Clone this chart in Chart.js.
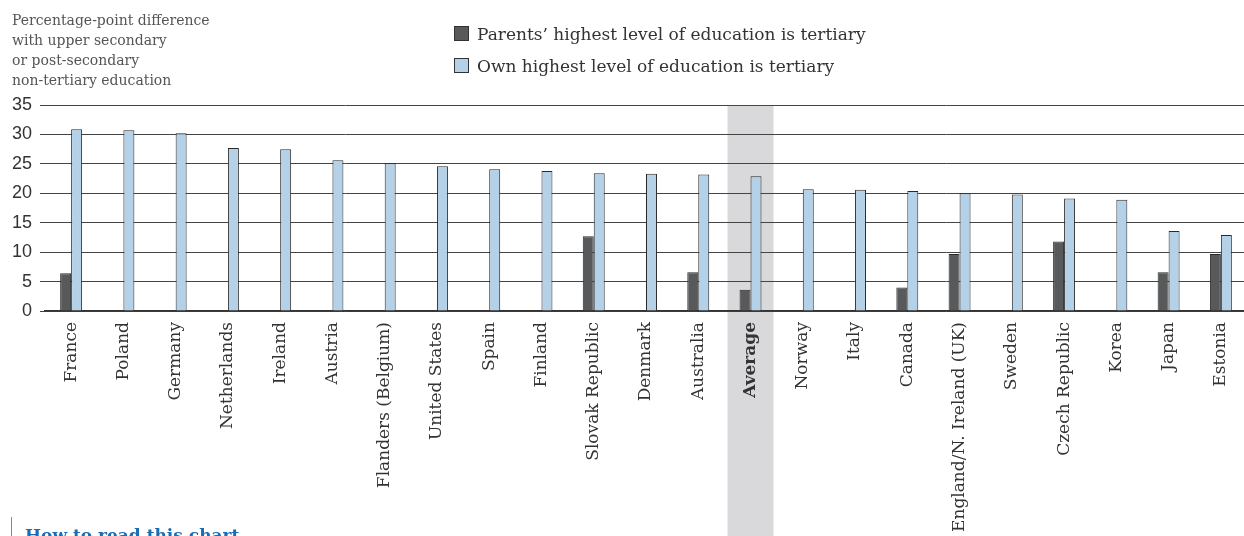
<!DOCTYPE html>
<html lang="en">

<head>
    <title>Tertiary education difference</title>
    <meta charset="utf-8">
    <script src="https://cdn.jsdelivr.net/npm/chart.js"></script>
    <style>
        html, body {
            margin: 0;
            padding: 0;
            width: 1244px;
            height: 536px;
            overflow: hidden;
            background: #fff;
        }

        #wrap {
            position: absolute;
            left: 0;
            top: 0;
            width: 1247px;
            height: 536px;
        }

        #yTitle {
            position: absolute;
            left: 12px;
            top: 10px;
            font-family: "DejaVu Serif", serif;
            font-size: 14px;
            line-height: 20px;
            color: #555;
        }

        .legend {
            position: absolute;
            left: 454px;
            font-family: "DejaVu Serif", serif;
            font-size: 17px;
            color: #333;
            white-space: nowrap;
        }

        .legend span {
            display: inline-block;
            width: 13px;
            height: 13px;
            border: 1px solid #333;
            margin-right: 8px;
            vertical-align: -1px;
        }

        #howTo {
            position: absolute;
            left: 25px;
            top: 525px;
            font-family: "DejaVu Serif", serif;
            font-weight: bold;
            font-size: 17px;
            color: #1a6db4;
        }

        #howLine {
            position: absolute;
            left: 11px;
            top: 517px;
            width: 1px;
            height: 20px;
            background: #888;
        }
    </style>
</head>

<body>
    <div id="wrap"><canvas id="chart"></canvas></div>

    <div id="yTitle">Percentage-point difference<br>with upper secondary<br>or post-secondary<br>non-tertiary education</div>
    <div class="legend" style="top:24px"><span style="background:#58595b"></span>Parents’ highest level of education is tertiary</div>
    <div class="legend" style="top:56px"><span style="background:#b4d1e8"></span>Own highest level of education is tertiary</div>

    <div id="howLine"></div>
    <div id="howTo">How to read this chart</div>

    <script>
        // countries, sorted by the "own" bar
        const countries = ['France', 'Poland', 'Germany', 'Netherlands', 'Ireland', 'Austria',
            'Flanders (Belgium)', 'United States', 'Spain', 'Finland', 'Slovak Republic', 'Denmark',
            'Australia', 'Average', 'Norway', 'Italy', 'Canada', 'England/N. Ireland (UK)', 'Sweden',
            'Czech Republic', 'Korea', 'Japan', 'Estonia'];

        const parentsTertiary = [6.4, null, null, null, null, null,
            null, null, null, null, 12.7, null,
            6.6, 3.6, null, null, 4.0, 9.7, null,
            11.8, null, 6.6, 9.7];

        const ownTertiary = [30.9, 30.7, 30.2, 27.7, 27.5, 25.6,
            25.1, 24.6, 24.1, 23.8, 23.4, 23.3,
            23.2, 22.9, 20.7, 20.6, 20.4, 20.0, 19.8,
            19.1, 18.9, 13.6, 12.9];

        const yTicks = [0, 5, 10, 15, 20, 25, 30, 35];
        const averageIndex = countries.indexOf('Average');

        // grey band behind the average column
        const averageBand = {
            id: 'averageBand',
            beforeDraw(chart) {
                const x = chart.scales.x.getPixelForValue(averageIndex);
                const ctx = chart.ctx;
                ctx.save();
                ctx.fillStyle = '#d9d9db';
                ctx.fillRect(x - 23, chart.chartArea.top, 46, chart.height - chart.chartArea.top);
                ctx.restore();
            }
        };

        new Chart(document.getElementById('chart'), {
            type: 'bar',
            data: {
                labels: countries,
                datasets: [{
                    label: 'Parents’ highest level of education is tertiary',
                    data: parentsTertiary,
                    backgroundColor: '#58595b',
                    borderColor: '#2a2a2a',
                    borderWidth: 1,
                    categoryPercentage: 0.42,
                    barPercentage: 1
                }, {
                    label: 'Own highest level of education is tertiary',
                    data: ownTertiary,
                    backgroundColor: '#b4d1e8',
                    borderColor: '#2a2a2a',
                    borderWidth: 1,
                    categoryPercentage: 0.42,
                    barPercentage: 1
                }]
            },
            options: {
                responsive: true,
                maintainAspectRatio: false,
                animation: false,
                layout: { padding: { top: 105, left: 0, right: 0, bottom: 0 } },
                plugins: {
                    legend: { display: false },
                    tooltip: { enabled: false }
                },
                scales: {
                    x: {
                        afterFit(scale) { scale.height = 225; },
                        grid: { display: false },
                        border: { display: true, color: '#333', width: 1.5 },
                        ticks: {
                            minRotation: 90,
                            maxRotation: 90,
                            autoSkip: false,
                            padding: 3,
                            color: '#333',
                            font: (c) => ({
                                family: 'DejaVu Serif',
                                size: 17,
                                weight: c.index === averageIndex ? 'bold' : 'normal'
                            })
                        }
                    },
                    y: {
                        min: 0,
                        max: 35,
                        afterFit(scale) { scale.width = 45; },
                        afterBuildTicks(scale) { scale.ticks = yTicks.map(v => ({ value: v })); },
                        grid: { color: '#444', lineWidth: 1, drawTicks: true, tickLength: 5 },
                        border: { display: false },
                        ticks: {
                            padding: 8,
                            color: '#333',
                            font: { family: 'Liberation Sans', size: 18 }
                        }
                    }
                }
            },
            plugins: [averageBand]
        });
    </script>
</body>

</html>
